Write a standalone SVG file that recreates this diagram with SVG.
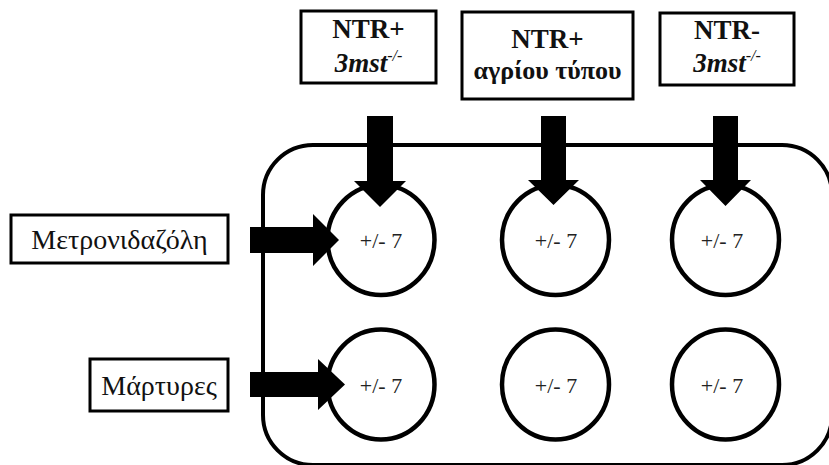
<svg xmlns="http://www.w3.org/2000/svg" width="829" height="465" viewBox="0 0 829 465">
  <style>
    .box { fill: #ffffff; stroke: #000000; stroke-width: 3; }
    .well { fill: #ffffff; stroke: #000000; stroke-width: 4.5; }
    .plate { fill: none; stroke: #000000; stroke-width: 4; }
    .arrow { fill: #000000; stroke: none; }
    text { font-family: 'Liberation Serif', 'DejaVu Serif', serif; fill: #111111; }
    .hdr { font-size: 27px; font-weight: bold; text-anchor: middle; }
    .hdr-gr { font-size: 26px; font-weight: bold; text-anchor: middle; }
    .geno { font-size: 27px; font-weight: bold; font-style: italic; text-anchor: middle; }
    .sup { font-size: 16px; font-weight: normal; }
    .lbl { font-size: 28px; text-anchor: middle; }
    .cnt { font-size: 22px; text-anchor: middle; fill: #222222; }
  </style>

  <!-- plate outline -->
  <g id="plate">
    <rect class="plate" x="263" y="145" width="569" height="320" rx="50" ry="50"/>
  </g>

  <!-- wells -->
  <g id="well-a1">
    <ellipse class="well" cx="381" cy="240" rx="53.5" ry="55"/>
    <text class="cnt" x="381" y="248">+/- 7</text>
  </g>
  <g id="well-a2">
    <ellipse class="well" cx="555.5" cy="240" rx="53.5" ry="55"/>
    <text class="cnt" x="556" y="248">+/- 7</text>
  </g>
  <g id="well-a3">
    <ellipse class="well" cx="725.5" cy="240" rx="53.5" ry="55"/>
    <text class="cnt" x="722" y="248">+/- 7</text>
  </g>
  <g id="well-b1">
    <ellipse class="well" cx="381" cy="384.5" rx="53.5" ry="55"/>
    <text class="cnt" x="381" y="393">+/- 7</text>
  </g>
  <g id="well-b2">
    <ellipse class="well" cx="555.5" cy="384.5" rx="53.5" ry="55"/>
    <text class="cnt" x="556" y="393">+/- 7</text>
  </g>
  <g id="well-b3">
    <ellipse class="well" cx="725.5" cy="384.5" rx="53.5" ry="55"/>
    <text class="cnt" x="722" y="393">+/- 7</text>
  </g>

  <!-- strain labels -->
  <g id="strain-ntr-mst">
    <rect class="box" x="301" y="11" width="135" height="72"/>
    <text class="hdr" x="368.5" y="38">NTR+</text>
    <text class="geno" x="368.5" y="72">3mst<tspan class="sup" dy="-11">-/-</tspan></text>
  </g>
  <g id="strain-ntr-wt">
    <rect class="box" x="462" y="12" width="171" height="87"/>
    <text class="hdr" x="547.5" y="48">NTR+</text>
    <text class="hdr-gr" x="547.5" y="79">αγρίου τύπου</text>
  </g>
  <g id="strain-mst">
    <rect class="box" x="660" y="13" width="134" height="72"/>
    <text class="hdr" x="727" y="39">NTR-</text>
    <text class="geno" x="727" y="72">3mst<tspan class="sup" dy="-11">-/-</tspan></text>
  </g>

  <!-- treatment labels -->
  <g id="treat-mtz">
    <rect class="box" x="11" y="215" width="217" height="48"/>
    <text class="lbl" x="119.5" y="249">Μετρονιδαζόλη</text>
  </g>
  <g id="treat-ctrl">
    <rect class="box" x="90" y="359" width="138" height="52"/>
    <text class="lbl" x="159" y="395">Μάρτυρες</text>
  </g>

  <!-- block arrows -->
  <g id="connectors">
    <polygon class="arrow" points="367,116 393,116 393,181 406,181 380,207 354,181 367,181"/>
    <polygon class="arrow" points="541,116 566,116 566,180 579,180 553.5,205 528,180 541,180"/>
    <polygon class="arrow" points="713,116 738,116 738,180 751,180 725.5,206 700,180 713,180"/>
    <polygon class="arrow" points="250,227 313,227 313,214 339,240 313,266 313,253 250,253"/>
    <polygon class="arrow" points="250,372 318,372 318,359 345,384.5 318,410 318,397 250,397"/>
  </g>
</svg>
